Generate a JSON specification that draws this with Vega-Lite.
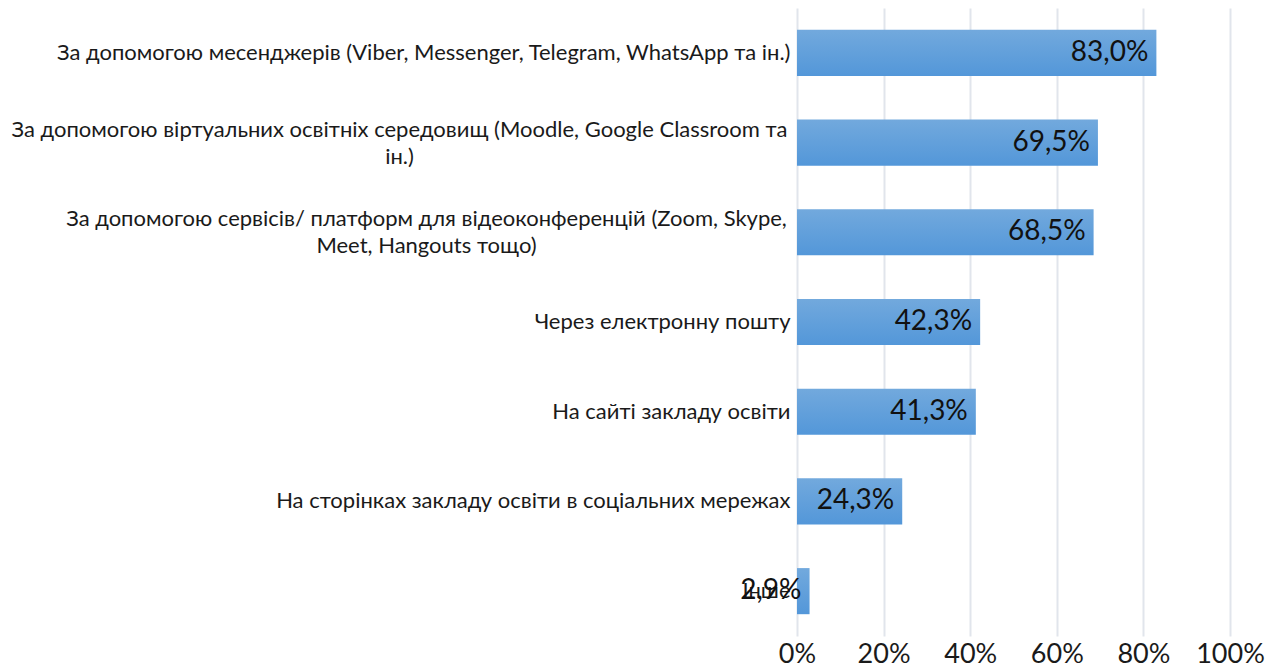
{
  "$schema": "https://vega.github.io/schema/vega-lite/v6.json",
  "width": 433,
  "height": 628,
  "autosize": {"type": "none"},
  "padding": {"left": 797, "top": 8, "right": 46, "bottom": 33},
  "background": "white",
  "config": {
    "locale": {"number": {"decimal": ",", "thousands": " ", "grouping": [3], "currency": ["", ""]}},
    "view": {"stroke": null},
    "font": "Lato"
  },
  "data": {
    "values": [
      {"cat": "За допомогою месенджерів (Viber, Messenger, Telegram, WhatsApp та ін.)", "value": 0.83},
      {"cat": "За допомогою віртуальних освітніх середовищ (Moodle, Google Classroom та\nін.)", "value": 0.695},
      {"cat": "За допомогою сервісів/ платформ для відеоконференцій (Zoom, Skype,\nMeet, Hangouts тощо)", "value": 0.685},
      {"cat": "Через електронну пошту", "value": 0.423},
      {"cat": "На сайті закладу освіти", "value": 0.413},
      {"cat": "На сторінках закладу освіти в соціальних мережах", "value": 0.243},
      {"cat": "Інше", "value": 0.029}
    ]
  },
  "encoding": {
    "y": {
      "field": "cat",
      "type": "nominal",
      "sort": null,
      "scale": {"paddingInner": 0.486, "paddingOuter": 0.243},
      "axis": {
        "title": null,
        "domain": false,
        "ticks": false,
        "grid": false,
        "labelFont": "Lato",
        "labelFontSize": 22,
        "labelColor": "#1a1a1a",
        "labelLimit": 0,
        "labelLineHeight": 27,
        "labelExpr": "split(datum.label, '\\n')",
        "labelAlign": {"condition": {"test": "indexof(datum.value, '\\n') >= 0", "value": "center"}, "value": "right"},
        "labelOffset": {"condition": {"test": "indexof(datum.value, '\\n') >= 0", "value": -13}, "value": 0},
        "labelPadding": {"condition": [
          {"test": "indexof(datum.value, 'Moodle') >= 0", "value": 398},
          {"test": "indexof(datum.value, 'Zoom') >= 0", "value": 371}
        ], "value": 7}
      }
    },
    "x": {
      "field": "value",
      "type": "quantitative",
      "scale": {"domain": [0, 1], "nice": false},
      "axis": {
        "title": null,
        "format": ".0%",
        "values": [0, 0.2, 0.4, 0.6, 0.8, 1],
        "domain": false,
        "ticks": false,
        "grid": true,
        "gridColor": "#e1e5ec",
        "gridWidth": 2,
        "labelFont": "Lato",
        "labelFontSize": 27,
        "labelColor": "#1a1a1a",
        "labelPadding": 5,
        "labelFlush": false
      }
    }
  },
  "layer": [
    {
      "mark": {
        "type": "bar",
        "color": {
          "gradient": "linear",
          "x1": 0, "y1": 0, "x2": 0, "y2": 1,
          "stops": [{"offset": 0, "color": "#72a9dd"}, {"offset": 1, "color": "#5397d9"}]
        }
      }
    },
    {
      "mark": {"type": "text", "align": "right", "baseline": "middle", "dx": -8, "fontSize": 28, "font": "Lato", "color": "#111111"},
      "encoding": {"text": {"field": "value", "type": "quantitative", "format": ".1%"}}
    }
  ]
}
